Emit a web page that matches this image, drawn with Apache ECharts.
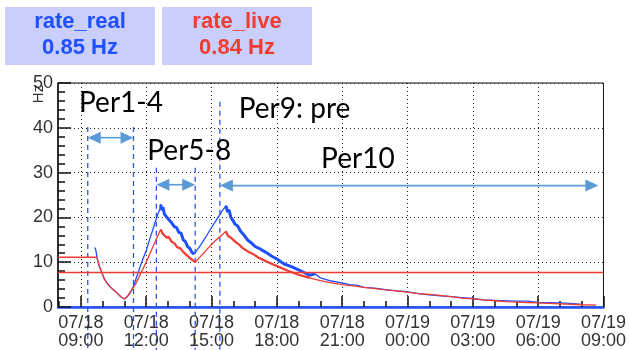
<!DOCTYPE html>
<html>
<head>
<meta charset="utf-8">
<script src="https://cdn.jsdelivr.net/npm/echarts@6/dist/echarts.min.js"></script>
<style>
html, body { margin: 0; padding: 0; background: #fff; }
#chart { width: 629px; height: 350px; }
</style>
</head>
<body>
<div id="chart"></div>
<script>
// ---- rate_real (blue) ----
const realTimes = [
  '07/18 09:38','07/18 09:41','07/18 09:45','07/18 09:50','07/18 10:00','07/18 10:05','07/18 10:15',
  '07/18 10:27','07/18 10:40','07/18 10:50','07/18 11:00','07/18 11:08','07/18 11:15','07/18 11:25',
  '07/18 11:32','07/18 11:40','07/18 11:50','07/18 12:00','07/18 12:10','07/18 12:20','07/18 12:30',
  '07/18 12:38','07/18 12:40','07/18 12:43','07/18 12:46','07/18 12:50','07/18 12:54','07/18 12:58',
  '07/18 13:03','07/18 13:08','07/18 13:13','07/18 13:18','07/18 13:24','07/18 13:30','07/18 13:36',
  '07/18 13:42','07/18 13:48','07/18 13:54','07/18 14:00','07/18 14:06','07/18 14:12','07/18 14:30',
  '07/18 14:50','07/18 15:10','07/18 15:30','07/18 15:40','07/18 15:44','07/18 15:48','07/18 15:53',
  '07/18 15:58','07/18 16:05','07/18 16:12','07/18 16:20','07/18 16:30','07/18 16:40','07/18 16:50',
  '07/18 17:00','07/18 17:15','07/18 17:30','07/18 17:45','07/18 18:00','07/18 18:20','07/18 18:40',
  '07/18 19:00','07/18 19:15','07/18 19:30','07/18 19:45','07/18 20:00','07/18 20:30','07/18 21:00',
  '07/18 21:20','07/18 21:40','07/18 22:00','07/18 22:30','07/18 23:00','07/18 23:30','07/19 00:00',
  '07/19 00:30','07/19 01:00','07/19 01:30','07/19 02:00','07/19 02:30','07/19 03:00','07/19 03:30',
  '07/19 04:00','07/19 05:00','07/19 05:30','07/19 06:00','07/19 07:00','07/19 07:30','07/19 08:00'
];
const realValues = [
  13.3, 12.8, 10.8, 9.2, 7.2, 6.2, 5.0,
  4.0, 3.1, 2.3, 1.8, 2.3, 3.0, 4.6,
  6.3, 8.2, 10.5, 12.6, 15.2, 17.7, 20.2,
  22.0, 22.9, 21.6, 22.3, 20.8, 21.2, 19.9,
  20.3, 19.0, 19.1, 17.9, 17.7, 16.6, 16.5,
  15.0, 14.6, 13.5, 13.1, 12.2, 11.8, 13.8,
  16.4, 19.0, 21.5, 22.6, 21.2, 21.7, 20.1,
  20.0, 18.5, 18.1, 16.9, 16.0, 14.9, 14.3,
  13.5, 12.9, 12.2, 11.4, 10.7, 9.6, 9.0,
  8.3, 7.7, 7.1, 7.4, 6.5, 5.8, 5.4,
  5.0, 4.9, 4.4, 4.2, 3.9, 3.6, 3.4,
  3.0, 2.7, 2.5, 2.3, 2.1, 1.9, 1.6,
  1.5, 1.3, 1.3, 1.0, 0.9, 0.8, 0.6
];

// ---- rate_live (red) ----
const liveTimes = [
  '07/18 07:57','07/18 09:44','07/18 09:48','07/18 09:52','07/18 10:00','07/18 10:05','07/18 10:15',
  '07/18 10:27','07/18 10:40','07/18 10:50','07/18 11:00','07/18 11:10','07/18 11:20','07/18 11:30',
  '07/18 11:45','07/18 12:00','07/18 12:15','07/18 12:30','07/18 12:40','07/18 12:45','07/18 12:50',
  '07/18 12:56','07/18 13:02','07/18 13:10','07/18 13:18','07/18 13:26','07/18 13:34','07/18 13:42',
  '07/18 13:50','07/18 13:58','07/18 14:06','07/18 14:15','07/18 14:40','07/18 15:05','07/18 15:30',
  '07/18 15:40','07/18 15:45','07/18 15:50','07/18 15:56','07/18 16:05','07/18 16:15','07/18 16:25',
  '07/18 16:40','07/18 16:55','07/18 17:10','07/18 17:30','07/18 17:50','07/18 18:10','07/18 18:30',
  '07/18 19:00','07/18 19:30','07/18 20:00','07/18 20:30','07/18 21:00','07/18 21:30','07/18 22:00',
  '07/18 22:30','07/18 23:00','07/18 23:30','07/19 00:00','07/19 00:30','07/19 01:00','07/19 01:30',
  '07/19 02:00','07/19 02:30','07/19 03:00','07/19 03:30','07/19 04:00','07/19 04:30','07/19 05:00',
  '07/19 05:30','07/19 06:00','07/19 07:00','07/19 08:00','07/19 08:40'
];
const liveValues = [
  11.1, 11.1, 10.0, 9.0, 7.2, 6.2, 5.0,
  4.0, 3.1, 2.3, 1.8, 2.6, 3.8, 5.0,
  7.5, 10.0, 12.8, 15.5, 17.3, 16.4, 16.6,
  15.5, 15.6, 14.6, 14.2, 13.3, 13.1, 12.3,
  11.7, 11.1, 10.6, 10.0, 12.2, 14.4, 16.2,
  16.9, 15.9, 16.0, 15.3, 14.6, 14.0, 13.2,
  12.4, 11.8, 11.0, 10.2, 9.5, 8.8, 8.1,
  7.2, 6.5, 5.9, 5.4, 5.0, 4.7, 4.4,
  4.1, 3.8, 3.6, 3.3, 3.0, 2.8, 2.6,
  2.3, 2.0, 1.8, 1.6, 1.4, 1.2, 1.1,
  1.0, 0.9, 0.7, 0.5, 0.4
];

// stretches where the readout is dense (drawn thicker)
const realDense = [['07/18 12:40','07/18 14:12'], ['07/18 15:40','07/18 19:45']];
const liveDense = [['07/18 12:40','07/18 14:15'], ['07/18 15:40','07/18 19:30']];

const liveThreshold = 7.8;

// axis range and ticks
const axisStart = '07/18 07:57';
const axisEnd = '07/19 09:00';
const majorTickTimes = ['07/18 09:00','07/18 12:00','07/18 15:00','07/18 18:00','07/18 21:00',
  '07/19 00:00','07/19 03:00','07/19 06:00','07/19 09:00'];
const minorTickTimes = ['07/18 08:00','07/18 10:00','07/18 11:00','07/18 13:00','07/18 14:00',
  '07/18 16:00','07/18 17:00','07/18 19:00','07/18 20:00','07/18 22:00','07/18 23:00',
  '07/19 01:00','07/19 02:00','07/19 04:00','07/19 05:00','07/19 07:00','07/19 08:00'];

// run period annotations
const periodLineTimes = ['07/18 09:19','07/18 11:25','07/18 12:28','07/18 14:15','07/18 15:23'];
const periodLineTops = [40.2, 40.2, 31.1, 31.1, 45.8];
const arrowStarts = ['07/18 09:19','07/18 12:28','07/18 15:23'];
const arrowEnds = ['07/18 11:25','07/18 14:15','07/19 08:46'];
const arrowLevels = [37.8, 27.3, 27.1];
const periodLabels = ['Per1-4', 'Per5-8', 'Per9: pre', 'Per10'];
const periodLabelTimes = ['07/18 08:55','07/18 12:03','07/18 16:15','07/18 20:02'];
const periodLabelLevels = [48.6, 38.0, 47.3, 36.2];

// rate readouts
const rateNames = ['rate_real', 'rate_live'];
const rateReadouts = ['0.85 Hz', '0.84 Hz'];

const BLUE = '#1f50ff';
const RED = '#f03c32';
const FONT = '"Liberation Sans", Arial, sans-serif';

function hrs(s) {
  const [md, hm] = s.split(' ');
  const day = parseInt(md.split('/')[1], 10);
  const [h, m] = hm.split(':').map(Number);
  return (day - 18) * 24 + h + m / 60;
}
function fmt(v) {
  const total = Math.round(v * 60);
  const day = 18 + Math.floor(total / 1440);
  const mins = total % 1440;
  const h = Math.floor(mins / 60), m = mins % 60;
  const p = n => String(n).padStart(2, '0');
  return '07/' + day + '\n' + p(h) + ':' + p(m);
}
function pairs(times, values) {
  return times.map((t, i) => [hrs(t), values[i]]);
}
function within(data, windows) {
  const w = windows.map(([a, b]) => [hrs(a), hrs(b)]);
  return data.map(d => w.some(([a, b]) => d[0] >= a && d[0] <= b) ? d : [d[0], null]);
}

const realData = pairs(realTimes, realValues);
const liveData = pairs(liveTimes, liveValues);

const chart = echarts.init(document.getElementById('chart'), null, { renderer: 'canvas' });

const lineBase = { type: 'line', showSymbol: false, symbol: 'none', animation: false, silent: true };

chart.setOption({
  animation: false,
  grid: { left: 58, right: 22, top: 83, bottom: 42, show: true, borderColor: '#111', borderWidth: 1 },
  xAxis: [{
    type: 'value',
    min: hrs(axisStart), max: hrs(axisEnd),
    axisLine: { show: true, lineStyle: { color: BLUE, width: 2.5 } },
    axisTick: { show: true, inside: true, length: 11, customValues: majorTickTimes.map(hrs),
      lineStyle: { color: '#111', width: 1.5 } },
    axisLabel: { customValues: majorTickTimes.map(hrs), formatter: fmt, fontFamily: FONT,
      fontSize: 18, color: '#333', lineHeight: 18, margin: 7 },
    splitLine: { show: true, lineStyle: { color: '#222', type: [1, 3], width: 1 } }
  }, {
    type: 'value',
    min: hrs(axisStart), max: hrs(axisEnd),
    position: 'bottom',
    axisLine: { show: false },
    axisTick: { show: true, inside: true, length: 6, customValues: minorTickTimes.map(hrs),
      lineStyle: { color: '#111', width: 1.5 } },
    axisLabel: { show: false },
    splitLine: { show: false }
  }],
  yAxis: {
    type: 'value', min: 0, max: 50, interval: 10,
    axisLine: { show: true, lineStyle: { color: '#111', width: 1.5 } },
    axisTick: { show: true, inside: true, length: 13, lineStyle: { color: '#111', width: 1.5 } },
    minorTick: { show: true, splitNumber: 5, length: 7, lineStyle: { color: '#111', width: 1.5 } },
    axisLabel: { fontFamily: FONT, fontSize: 18, color: '#333', margin: 5 },
    splitLine: { show: true, lineStyle: { color: '#222', type: [1, 3], width: 1 } }
  },
  series: [
    Object.assign({}, lineBase, { name: 'rate_real', data: realData,
      lineStyle: { color: BLUE, width: 1.3 } }),
    Object.assign({}, lineBase, { name: 'rate_real_dense', data: within(realData, realDense),
      connectNulls: false, lineStyle: { color: BLUE, width: 3 } }),
    Object.assign({}, lineBase, { name: 'rate_live', data: liveData,
      lineStyle: { color: RED, width: 1.3 },
      markLine: { silent: true, symbol: 'none', animation: false, label: { show: false },
        lineStyle: { color: RED, width: 1.3, type: 'solid' },
        data: [{ yAxis: liveThreshold }] } }),
    Object.assign({}, lineBase, { name: 'rate_live_dense', data: within(liveData, liveDense),
      connectNulls: false, lineStyle: { color: RED, width: 2.2 } })
  ]
});

// overlays placed through the axis scales
const px = (t, v) => chart.convertToPixel({ gridIndex: 0 }, [hrs(t), v]);
const ARROW = '#5b9bd5';
const graphics = [];

// rate readout boxes
rateNames.forEach((name, i) => {
  const x0 = 5 + i * 157;
  const col = i === 0 ? BLUE : RED;
  graphics.push({ type: 'rect', shape: { x: x0, y: 7, width: 150, height: 58 },
    style: { fill: '#c9cefa' } });
  graphics.push({ type: 'text', x: x0 + 75, y: 22,
    style: { text: name, font: 'bold 22px ' + FONT, fill: col, align: 'center', verticalAlign: 'middle' } });
  graphics.push({ type: 'text', x: x0 + 75, y: 48,
    style: { text: rateReadouts[i], font: 'bold 22px ' + FONT, fill: col, align: 'center', verticalAlign: 'middle' } });
});

// axis unit
graphics.push({ type: 'text', x: 39, y: 94, rotation: Math.PI / 2,
  style: { text: 'Hz', font: '15px ' + FONT, fill: '#333', align: 'center', verticalAlign: 'middle' } });

// dashed period boundaries
periodLineTimes.forEach((t, i) => {
  const top = px(t, periodLineTops[i]);
  graphics.push({ type: 'line', shape: { x1: top[0], y1: top[1], x2: top[0], y2: 350 },
    style: { stroke: '#2a55f0', lineWidth: 1.3, lineDash: [5, 4] } });
});

// double-headed arrows
arrowStarts.forEach((t, i) => {
  const a = px(t, arrowLevels[i]);
  const b = px(arrowEnds[i], arrowLevels[i]);
  const L = 13, H = 6;
  graphics.push({ type: 'line', shape: { x1: a[0] + L - 1, y1: a[1], x2: b[0] - L + 1, y2: b[1] },
    style: { stroke: ARROW, lineWidth: 1.6 } });
  graphics.push({ type: 'polygon', shape: { points: [[a[0], a[1]], [a[0] + L, a[1] - H], [a[0] + L, a[1] + H]] },
    style: { fill: ARROW } });
  graphics.push({ type: 'polygon', shape: { points: [[b[0], b[1]], [b[0] - L, b[1] - H], [b[0] - L, b[1] + H]] },
    style: { fill: ARROW } });
});

// period names
periodLabels.forEach((s, i) => {
  const p = px(periodLabelTimes[i], periodLabelLevels[i]);
  graphics.push({ type: 'text', x: p[0], y: p[1],
    style: { text: s, font: '28px Lato, "Open Sans", sans-serif', fill: '#000',
      align: 'left', verticalAlign: 'top' } });
});

chart.setOption({ graphic: graphics });
</script>
</body>
</html>
